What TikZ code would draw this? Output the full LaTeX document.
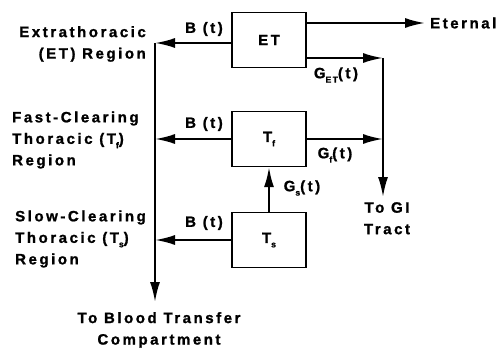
\documentclass[tikz,border=0pt]{standalone}
\usepackage{fontspec}
\setmainfont[LetterSpace=17,BoldFeatures={FakeBold=1.2}]{Liberation Sans}
\usetikzlibrary{arrows.meta,positioning,calc}
\newcommand{\lowsub}[1]{\raisebox{-0.55ex}{\fontsize{8.5}{8.5}\selectfont #1}}

\begin{document}
\begin{tikzpicture}[x=1pt,y=-1pt,
    box/.style={draw,line width=1.4pt,minimum width=74pt,minimum height=55pt,inner sep=0pt},
    flow/.style={line width=2pt,-{Latex[length=20pt,width=10pt]}},
    lbl/.style={font=\fontsize{15}{21.5}\selectfont\bfseries,inner sep=0pt}]
    \useasboundingbox (0,0) rectangle (503,350);

    % compartments
    \node[box,lbl] (et) at (269,40) {ET};
    \node[box,lbl] (tf) at (269,139) {T\lowsub{f}};
    \node[box,lbl] (ts) at (269,240) {T\lowsub{s}};

    % region names
    \node[lbl,anchor=east,align=right] (etreg) at (146,44) {Extrathoracic\\(ET) Region};
    \node[lbl,anchor=west,align=left] (tfreg) at (12,140) {Fast-Clearing\\Thoracic (T\lowsub{f})\\Region};
    \node[lbl,anchor=west,align=left] (tsreg) at (15,239) {Slow-Clearing\\Thoracic (T\lowsub{s})\\Region};

    % destinations
    \node[lbl,anchor=west] (eternal) at (430,23) {Eternal};
    \node[lbl,align=center,anchor=north] (gitract) at (387,202) {To GI\\Tract};
    \node[lbl,align=center,anchor=north] (blood) at (159,312) {To Blood Transfer\\Compartment};
    \coordinate (bl) at (155,43);
    \coordinate (gi) at (383,58);

    % clearance to blood
    \draw[flow] (et.west |- bl) -- (bl);
    \draw[flow] (tf.west) -- (tf.west -| bl);
    \draw[flow] (ts.west) -- (ts.west -| bl);
    \draw[flow] (bl) -- ([yshift=10pt]bl |- blood.north);
    \node[lbl] (bet) at (204,29) {B (t)};
    \node[lbl] (btf) at (204,124) {B (t)};
    \node[lbl] (bts) at (204,223) {B (t)};

    % transport to GI tract
    \draw[flow] (et.east |- eternal.west) -- ([xshift=-5pt]eternal.west);
    \draw[flow] (et.east |- gi) -- (gi);
    \draw[flow] (tf.east) -- (tf.east -| gi);
    \draw[flow] (gi) -- ([yshift=5pt]gi |- gitract.north);
    \draw[flow] (ts.north) -- (tf.south);
    \node[lbl] (get) at (336,75) {G\lowsub{ET}(t)};
    \node[lbl] (gf) at (335,155) {G\lowsub{f}(t)};
    \node[lbl] (gs) at (302,188) {G\lowsub{s}(t)};
\end{tikzpicture}
\end{document}
